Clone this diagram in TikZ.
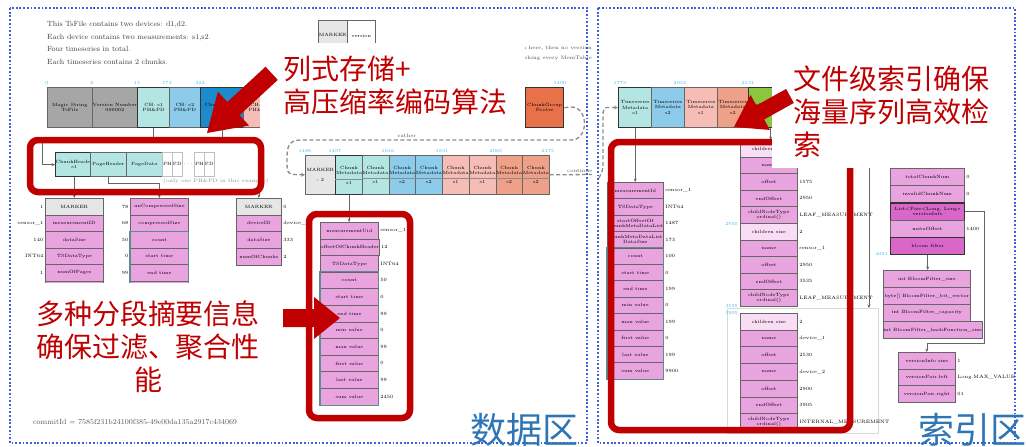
\documentclass[tikz,border=0pt]{standalone}
\usepackage{fontspec}
\newfontfamily\cjk{Noto Sans CJK SC}
\usetikzlibrary{arrows.meta,calc}
\definecolor{redc}{HTML}{C00000}
\definecolor{dotb}{HTML}{3F5FE0}
\definecolor{zonec}{HTML}{2E75B6}
\definecolor{offc}{HTML}{3DB8E8}
\definecolor{cy}{HTML}{B3E6E3}
\definecolor{bl}{HTML}{8DCBEA}
\definecolor{db}{HTML}{1B8BCB}
\definecolor{pk}{HTML}{F5BDB5}
\definecolor{orr}{HTML}{EFA088}
\definecolor{cgo}{HTML}{E8714A}
\definecolor{gr}{HTML}{A6A6A6}
\definecolor{mg}{HTML}{E6E6E6}
\definecolor{tp}{HTML}{E9A3DF}
\definecolor{td}{HTML}{D966C9}
\definecolor{tl}{HTML}{F8DDF4}
\definecolor{gn}{HTML}{8CC63F}
\definecolor{wh}{HTML}{FFFFFF}
\definecolor{sg}{HTML}{5E8C8E}
\tikzset{
 bx/.style={draw=black!60, line width=0.7pt, anchor=north west, inner sep=0pt, align=center, font=\fontsize{4.6}{5.3}\selectfont},
 tcell/.style={bx},
 nrm/.style={},
 thk/.style={line width=1.4pt, draw=black!80},
 lab/.style={inner sep=1.5pt, font=\fontsize{4.8}{5.5}\selectfont},
 offl/.style={text=offc, inner sep=0pt, anchor=base, font=\fontsize{4.6}{5}\selectfont},
 con/.style={draw=black!60, line width=0.7pt},
 arr/.style={con, -{Stealth[length=3.5pt,width=3pt]}},
 dline/.style={draw=black!45, line width=1.3pt, dash pattern=on 4pt off 2.5pt},
 redbox/.style={draw=redc, line width=6.5pt, rounded corners=8pt},
 cnote/.style={text=redc, font=\cjk\fontsize{28}{33}\selectfont, align=left, inner sep=0pt, anchor=north west},
 zone/.style={text=zonec, font=\cjk\fontsize{36}{40}\selectfont, inner sep=0pt},
 panel/.style={draw=dotb, line width=1.8pt, dash pattern=on 1.8pt off 1.9pt},
 grp/.style={draw=sg, line width=1.3pt},
 smallt/.style={inner sep=0pt, text=black!70, font=\fontsize{5}{6}\selectfont},
 intro/.style={inner sep=0pt, anchor=base west, text=black!75, font=\fontsize{7.5}{9}\selectfont},
}
\newcommand\tcol[7]{%
 \foreach \tx/\lb/\fc/\st [count=\i] in {#7}{%
  \node[tcell, fill=\fc, \st, minimum width=#4, minimum height=#5] (#1\i) at (#2,{#3+(\i-1)*#5}) {\tx};
  \if#6l\node[lab, anchor=east] (#1l\i) at (#1\i.west) {\lb};\else\node[lab, anchor=west] (#1l\i) at (#1\i.east) {\lb};\fi
 }}
\newcommand\barrow[7]{\fill[redc, shift={(#1,#2)}, rotate=#3] (0,0) -- (-#7,#6) -- (-#7,#5) -- (-#4,#5) -- (-#4,-#5) -- (-#7,-#5) -- (-#7,-#6) -- cycle;}
\begin{document}
\begin{tikzpicture}[x=1pt,y=-1pt]
\useasboundingbox (0,0) rectangle (1026,447);
\fill[white] (0,0) rectangle (1026,447);
% panels
\draw[panel] (10,8) rectangle (587,443);
\draw[panel] (598,8) rectangle (1015,443);

% ---------- left panel ----------
\node[intro] (i1) at (47,26.5) {This TsFile contains two devices: d1,d2.};
\node[intro] (i2) at (47,39) {Each device contains two measurements: s1,s2.};
\node[intro] (i3) at (47,51.5) {Four timeseries in total.};
\node[intro] (i4) at (47,64) {Each timeseries contains 2 chunks.};

\node[bx, fill=mg, minimum width=29, minimum height=30] (mk0) at (318,20) {MARKER};
\node[bx, fill=white, minimum width=28, minimum height=30] (mkv) at (347,20) {\\version};
\node[smallt, anchor=base east] (cap1) at (592,49) {If no version mark is written here, then no version};
\node[smallt, anchor=base east] (cap2) at (592,59) {number is written after flushing every MemTable};

% main bar
\node[bx, fill=gr, minimum width=45, minimum height=40] (ms) at (47,87) {Magic String\\TsFile};
\node[bx, fill=gr, minimum width=45, minimum height=40] (vn) at (92,87) {Version Number\\000002};
\node[bx, fill=cy, thk, minimum width=32, minimum height=40] (c1) at (137,87) {CH: s1\\PH\&PD};
\node[bx, fill=bl, minimum width=31, minimum height=40] (c2) at (169,87) {CH: s2\\PH\&PD};
\node[bx, fill=db, thk, minimum width=43, minimum height=40] (cg1) at (200,87) {ChunkGroup\\Footer};
\node[bx, fill=pk, minimum width=32, minimum height=40] (c3) at (243,87) {CH: s1\\PH\&PD};
\node[bx, fill=cgo, thk, minimum width=38, minimum height=40] (cg2) at (525,87) {ChunkGroup\\Footer};
\node[offl] (o1) at (47,84) {0};
\node[offl] (o2) at (92,84) {6};
\node[offl] (o3) at (137,84) {15};
\node[offl] (o4) at (167,84) {173};
\node[offl] (o5) at (200,84) {322};
\node[offl] (o6) at (560,84) {1400};

% chunk header row
\node[bx, fill=cy, thk, minimum width=35, minimum height=24] (ch) at (55,152) {ChunkHeader\\s1};
\node[bx, fill=cy, minimum width=36, minimum height=24] (ph) at (90,152) {PageHeader};
\node[bx, fill=cy, minimum width=36, minimum height=24] (pd) at (126,152) {PageData};
\node[bx, draw=black!25, fill=white, minimum width=10, minimum height=24] (ph2) at (162,152) {PH};
\node[bx, draw=black!25, fill=white, minimum width=10, minimum height=24] (pd2) at (172,152) {PD};
\node[smallt] (dots) at (188,164) {$\cdots$};
\node[bx, draw=black!25, fill=white, minimum width=10, minimum height=24] (ph3) at (194,152) {PH};
\node[bx, draw=black!25, fill=white, minimum width=10, minimum height=24] (pd3) at (204,152) {PD};
\node[smallt, anchor=north west, text=black!45] (only) at (163,179) {(only one PH\&PD in this example)};

% tables under chunk header
\tcol{ta}{45}{198}{58}{16.5}{l}{MARKER/1/mg/nrm, measurementID/sensor\_1/tp/nrm, dataSize/140/tp/nrm, TSDataType/INT64/tp/nrm, numOfPages/1/tp/nrm, {}/{}/tp/nrm}
\tcol{tb}{130}{198}{58}{16.6}{l}{unCompressedSize/78/tp/nrm, compressedSize/68/tp/nrm, count/50/tp/nrm, start time/0/tp/nrm, end time/99/tp/nrm, min value/{}/tp/nrm}
\draw[grp] (tb3.north west) rectangle (tb6.south east);
\tcol{tc}{236}{198}{45}{16.7}{r}{MARKER/0/mg/nrm, deviceID/device\_1/tp/nrm, dataSize/333/tp/nrm, numOfChunks/2/tp/nrm}

% chunk metadata row
\node[bx, fill=mg, minimum width=30, minimum height=39] (mk2) at (305,155) {MARKER\\[4pt]- 2};
\foreach \fc/\s/\st [count=\i] in {cy/s1/thk, cy/s1/nrm, bl/s2/nrm, bl/s2/nrm, pk/s1/nrm, pk/s1/nrm, orr/s2/nrm, orr/s2/nrm}{
  \node[bx, fill=\fc, \st, minimum width=26.75, minimum height=39] (cm\i) at ({335+(\i-1)*26.75},155) {Chunk\\Metadata\\[4pt]\s};
  \draw[black!45, line width=0.5pt] ($(cm\i.south west)+(0,-16)$) -- ($(cm\i.south east)+(0,-16)$);
}
\node[offl] (p1) at (305,152) {1488};
\node[offl] (p2) at (335,152) {1497};
\node[offl] (p3) at (388,152) {1616};
\node[offl] (p4) at (442,152) {1831};
\node[offl] (p5) at (496,152) {2065};
\node[offl] (p6) at (548,152) {2175};

\tcol{tD}{320}{222}{58}{16.6}{r}{measurementUid/sensor\_1/tp/nrm, offsetOfChunkHeader/12/tp/nrm, TSDataType/INT64/tp/nrm, count/50/tp/nrm, start time/0/tp/nrm, end time/99/tp/nrm, min value/0/tp/nrm, max value/99/tp/nrm, first value/0/tp/nrm, last value/99/tp/nrm, sum value/2450/tp/nrm}
\draw[grp] (tD4.north west) rectangle (tD11.south east);

% left connectors
\draw[arr] (c1.south) |- (42,141) |- (ch.west);
\draw[arr] (ch.south) -- (ch.south |- ta1.north);
\draw[arr] (ph.south) -- ++(0,7) -| (tb1.north);
\draw[arr] (cg1.south) -- ++(0,14) -| (tc1.north);
\draw[arr] (cm1.south) -- (cm1.south |- tD1.north);
\draw[dline, -{Stealth[length=4pt,width=4pt]}] (cg2.east) -- (571,107) .. controls (589,107) and (589,140) .. (571,140) -- (300,140) .. controls (287,140) and (287,150) .. (287,160) .. controls (287,174.5) .. (mk2.west);
\node[smallt] (rather) at (407,136) {rather};
\draw[dline] (cm8.east) -- (592,174.5);
\node[smallt, anchor=base west] (cont) at (567,172) {continue};

% ---------- right panel ----------
\node[bx, fill=cy, thk, minimum width=33, minimum height=40] (ts1) at (618,87) {Timeseries\\Metadata\\s1};
\node[bx, fill=bl, minimum width=33, minimum height=40] (ts2) at (651,87) {Timeseries\\Metadata\\s2};
\node[bx, fill=pk, minimum width=33, minimum height=40] (ts3) at (684,87) {Timeseries\\Metadata\\s1};
\node[bx, fill=orr, minimum width=31, minimum height=40] (ts4) at (717,87) {Timeseries\\Metadata\\s2};
\node[bx, fill=gn, thk, minimum width=44, minimum height=40] (tsg) at (748,87) {MetadataIndex\\Node};
\node[offl] (q1) at (620,84) {1773};
\node[offl] (q2) at (680,84) {2052};
\node[offl] (q3) at (748,84) {2531};
\draw[dline, -{Stealth[length=4pt,width=4pt]}] (599,178) .. controls (603,170) .. (603,160) -- (603,118) .. controls (603,107) .. (ts1.west);

\tcol{te}{607}{182}{56}{16.4}{r}{measurementId/sensor\_1/tp/nrm, TSDataType/INT64/tp/nrm, startOffsetOf\\ChunkMetaDataList/1487/tp/nrm, chunkMetaDataList\\DataSize/173/tp/nrm, count/100/tp/nrm, start time/0/tp/nrm, end time/199/tp/nrm, min value/0/tp/nrm, max value/199/tp/nrm, first value/0/tp/nrm, last value/199/tp/nrm, sum value/9900/tp/nrm}
\draw[grp] (te5.north west) rectangle (te12.south east);

\tcol{tf}{740}{140}{57}{16.6}{r}{children size/{}/tl/nrm, name/{}/tp/nrm, offset/1575/tp/nrm, endOffset/2950/tp/nrm, childNodeType\\ordinal()/LEAF\_MEASUREMENT/tp/nrm, children size/2/tl/nrm, name/sensor\_1/tp/nrm, offset/2950/tp/nrm, endOffset/3535/tp/nrm, childNodeType\\ordinal()/LEAF\_MEASUREMENT/tp/nrm}
\node[offl, anchor=base east] (q4) at (738,225) {2950};

\node[draw=black!15, line width=0.6pt, minimum width=151, minimum height=125, anchor=north west, inner sep=0pt] (gbox) at (727,308) {};
\tcol{tg}{740}{313}{57}{16.7}{r}{children size/2/tl/nrm, name/device\_1/tp/nrm, offset/2530/tp/nrm, name/device\_2/tp/nrm, offset/2900/tp/nrm, endOffset/3905/tp/nrm, childNodeType\\ordinal()/INTERNAL\_MEASUREMENT/tp/nrm}
\node[offl, anchor=base east] (q5) at (738,307) {3535};
\node[offl, anchor=base east] (q6) at (738,314) {3905};

\tcol{th}{890}{150.8}{74}{17.2}{r}{{}/{}/tp/thk, totalChunkNum/0/tp/nrm, invalidChunkNum/0/tp/nrm, {List<Pair<Long, Long>>\\versionInfo}/{}/td/thk, metaOffset/1400/tp/nrm, bloom filter/{}/td/thk}
\node[offl, anchor=base east] (q7) at (888,255) {4051};
\tcol{ti}{883}{270}{87}{17}{r}{int BloomFilter\_size/{}/tp/nrm, {byte[] BloomFilter\_bit\_vector}/{}/tp/nrm, int BloomFilter\_capacity/{}/tp/nrm, int BloomFilter\_hashFunction\_size/{}/tp/nrm}
\tcol{tj}{898}{352}{57}{16.7}{r}{versionInfo size/1/tp/nrm, versionPair.left/Long.MAX\_VALUE/tp/nrm, versionPair.right/01/tp/nrm}

% right connectors
\draw[arr] (ts1.south) -- (ts1.south |- te1.north);
\draw[arr] (tsg.south) -- (tsg.south |- tf1.north);
\coordinate (gsrc) at (869,150);
\draw[arr] (gsrc) -- (gsrc |- gbox.north);
\draw[arr] (th4.east) -| (984,343) -| (tj1.north);
\draw[arr] (th6.south) -- (th6.south |- ti1.north);

% ---------- highlights ----------
\draw[redbox] (30,140) rectangle (261,192);
\draw[redbox] (309,214) rectangle (410,418);
\draw[redbox] (611,142) rectangle (850,430);

\fill[white] (260,43) rectangle (525,128);
\fill[white] (28,283) rectangle (272,405);
\fill[white] (772,50) rectangle (1002,168);

\node[cnote] (n1) at (283,55.5) {列式存储+\\高压缩率编码算法};
\node[cnote, align=center, anchor=north] (n2) at (148,300.5) {多种分段摘要信息\\确保过滤、聚合性\\能};
\node[cnote] (n3) at (793,65.5) {文件级索引确保\\海量序列高效检\\索};

\barrow{207}{133}{222.7}{88}{9}{23}{36}
\barrow{340}{318}{0}{57}{9}{21}{26}
\barrow{734}{127}{209}{64}{8}{20}{30}

\node[text=black!65, inner sep=0pt, anchor=base west, font=\fontsize{7.5}{9}\selectfont] (commit) at (33,424) {commitId = 7585f231b24100f385-49e00da135a2917c434069};

\node[zone, anchor=west] (z1) at (470,430) {数据区};
\node[zone, anchor=west] (z2) at (918,430) {索引区};
\end{tikzpicture}
\end{document}
